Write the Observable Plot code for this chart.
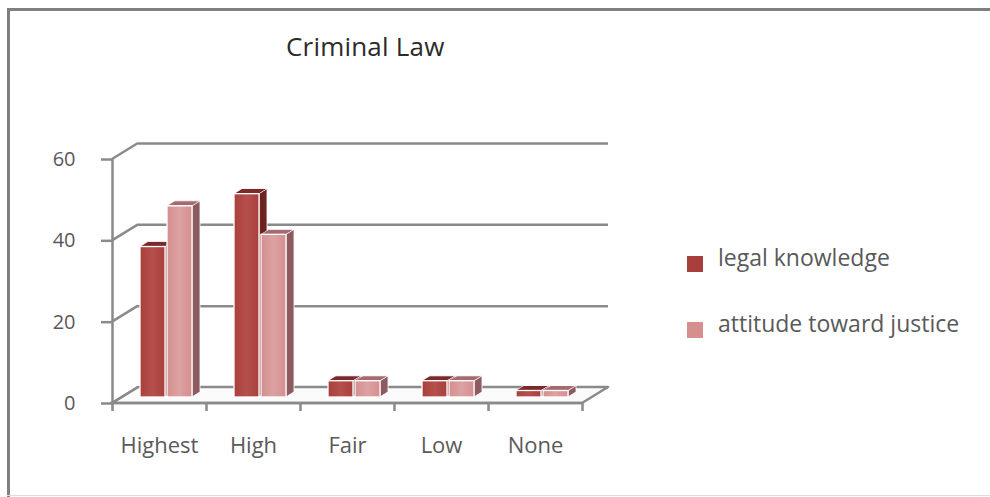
<!DOCTYPE html>
<html>
<head>
<meta charset="utf-8">
<script src="https://cdn.jsdelivr.net/npm/d3@7"></script>
<script src="https://cdn.jsdelivr.net/npm/@observablehq/plot@0.6"></script>
<style>
  html, body { margin: 0; padding: 0; background: #fff; }
  #wrap { position: relative; width: 990px; height: 497px; overflow: hidden; font-family: "Open Sans", "Noto Sans", sans-serif; }
  #topb { position: absolute; left: 7px; top: 8px; width: 983px; height: 3px; background: #808080; }
  #leftb { position: absolute; left: 7px; top: 8px; width: 3px; height: 489px; background: #808080; }
  #botb { position: absolute; left: 7px; top: 495px; width: 983px; height: 1px; background: #dcdcdc; }
  #title { position: absolute; left: 286px; top: 28px; font-size: 26px; color: #2b2b2b; white-space: nowrap; letter-spacing: 0.2px; }
  #chart { position: absolute; left: 0; top: 0; }
  .leg { position: absolute; left: 687px; font-size: 23px; color: #595959; white-space: nowrap; }
  .leg span.sw { position: absolute; left: 0; width: 16px; height: 16px; }
  .leg span.lab { position: absolute; left: 31px; top: -15px; }
  g[aria-description^='topface'] rect { transform-box: fill-box; transform-origin: 0 100%; transform: skewX(-58deg); }
  g[aria-description^='sideface'] rect { transform-box: fill-box; transform-origin: 0 100%; transform: skewY(-32deg); }
</style>
</head>
<body>
<div id="wrap">
  <div id="chart"></div>
  <div id="topb"></div><div id="leftb"></div><div id="botb"></div>
  <div id="title">Criminal Law</div>
  <div id="legend"></div>
</div>
<script>
// ---- data ----
const categories = ["Highest", "High", "Fair", "Low", "None"];
const legalKnowledge = [37, 50, 4, 4, 1.6];
const attitudeTowardJustice = [47, 40, 4, 4, 1.6];
const seriesNames = ["legal knowledge", "attitude toward justice"];
const yTicks = [0, 20, 40, 60];

// ---- styles ----
const colors = {
  legal: {front: "#A93F3D", side: "#6E2323", top: "#7A2A2A", light: "#B5504D"},
  att:   {front: "#D48F8E", side: "#8C5A60", top: "#A46A70", light: "#DCA2A1"}
};
const gray = "#8a8a8a";
const depth = {dx: 26, dy: -16};     // floor/grid depth
const barOff = {dx: 8, dy: -6};      // bar placement within depth
const boxD = 8;                      // bar box depth (px, horizontal)
const boxH = 5;                      // bar box depth (px, vertical)
const barW = 25;

const rows = categories.map((c, i) => ({i, cat: c, legal: legalKnowledge[i], att: attitudeTowardJustice[i]}));

function barMarks(key, insetLeft, insetRight, col) {
  return [
    Plot.rectY(rows, {x1: d => d.i, x2: d => d.i + 1, y1: 0, y2: d => d[key],
      insetLeft: insetLeft + barW, insetRight: insetRight - boxD, dx: barOff.dx, dy: barOff.dy,
      fill: col.side, stroke: "#fff", strokeWidth: 0.8, ariaDescription: "sideface-" + key}),
    Plot.rectY(rows, {x1: d => d.i, x2: d => d.i + 1, y1: d => d[key], y2: d => d[key],
      insetLeft, insetRight, insetTop: -boxH,
      dx: barOff.dx, dy: barOff.dy, fill: col.top, stroke: "#fff", strokeWidth: 0.8, ariaDescription: "topface-" + key}),
    Plot.rectY(rows, {x1: d => d.i, x2: d => d.i + 1, y1: 0, y2: d => d[key],
      insetLeft, insetRight, dx: barOff.dx, dy: barOff.dy, fill: `url(#grad-${key})`, stroke: "#fff", strokeWidth: 1.3, ariaDescription: "front-" + key})
  ];
}

const plot = Plot.plot({
  width: 990, height: 497,
  marginLeft: 112, marginRight: 408, marginTop: 159, marginBottom: 94,
  style: {fontFamily: "'Open Sans', 'Noto Sans', sans-serif", background: "transparent", overflow: "visible"},
  x: {domain: [0, categories.length], axis: null},
  y: {domain: [0, 60], axis: null},
  marks: [
    Plot.ruleY(yTicks, {dx: depth.dx, dy: depth.dy, stroke: gray, strokeWidth: 2.5}),
    Plot.ruleX([0], {y1: 0, y2: 60, stroke: gray, strokeWidth: 2.5}),
    Plot.axisY({ticks: yTicks, tickSize: 11, tickPadding: 26, fontSize: 20, stroke: gray, strokeWidth: 2.5, fill: "#595959", label: null, tickFormat: d => d}),
    Plot.axisX({ticks: d3.range(categories.length + 1), tickSize: 8, tickFormat: () => "", stroke: gray, strokeWidth: 2.5, label: null}),
    Plot.axisX({ticks: categories.map((c, i) => i + 0.5), tickSize: 0, tickPadding: 34, fontSize: 22, fill: "#5a5a5a",
      tickFormat: v => categories[Math.floor(v)], label: null}),
    ...barMarks("legal", 20, 49, colors.legal),
    ...barMarks("att", 47, 22, colors.att)
  ]
});
document.getElementById("chart").appendChild(plot);

const svg = d3.select(plot);
const defs = svg.insert("defs", ":first-child");
[["legal", colors.legal], ["att", colors.att]].forEach(([k, c]) => {
  const g = defs.append("linearGradient").attr("id", "grad-" + k).attr("x1", 0).attr("x2", 1).attr("y1", 0).attr("y2", 0);
  g.append("stop").attr("offset", 0).attr("stop-color", c.front);
  g.append("stop").attr("offset", 0.5).attr("stop-color", c.light);
  g.append("stop").attr("offset", 1).attr("stop-color", c.front);
});

// legend
const leg = document.getElementById("legend");
[[seriesNames[0], colors.legal.front, 256], [seriesNames[1], colors.att.front, 322]].forEach(([name, c, top]) => {
  const d = document.createElement("div");
  d.className = "leg"; d.style.top = top + "px";
  d.innerHTML = `<span class="sw" style="background:${c}"></span><span class="lab">${name}</span>`;
  leg.appendChild(d);
});

// floor and depth diagonals, drawn from the plot's own scales
const sxs = plot.scale("x"), sys = plot.scale("y");
const sx = d3.scaleLinear(sxs.domain, sxs.range), sy = d3.scaleLinear(sys.domain, sys.range);
let firstBar = svg.select("g[aria-description='sideface-legal']").node();
if (!firstBar) firstBar = svg.selectAll("g").filter(function() { return this.parentNode === plot && this.querySelector("rect"); }).node();
const floorG = document.createElementNS("http://www.w3.org/2000/svg", "g");
if (firstBar) firstBar.parentNode.insertBefore(floorG, firstBar); else plot.appendChild(floorG);
const fg = d3.select(floorG);
const x0 = sx(0), x1 = sx(categories.length), y0 = sy(0);
fg.append("path")
  .attr("d", `M${x0},${y0}L${x1},${y0}L${x1 + depth.dx},${y0 + depth.dy}L${x0 + depth.dx},${y0 + depth.dy}Z`)
  .attr("fill", "#fbfbfb").attr("stroke", gray).attr("stroke-width", 2.5).attr("stroke-linejoin", "round");
fg.selectAll("line.diag").data(yTicks).join("line")
  .attr("x1", x0).attr("y1", d => sy(d)).attr("x2", x0 + depth.dx).attr("y2", d => sy(d) + depth.dy)
  .attr("stroke", gray).attr("stroke-width", 2.5);
fg.append("line").attr("x1", x0 - 2).attr("x2", x1).attr("y1", y0).attr("y2", y0).attr("stroke", gray).attr("stroke-width", 2.5);
</script>
</body>
</html>
